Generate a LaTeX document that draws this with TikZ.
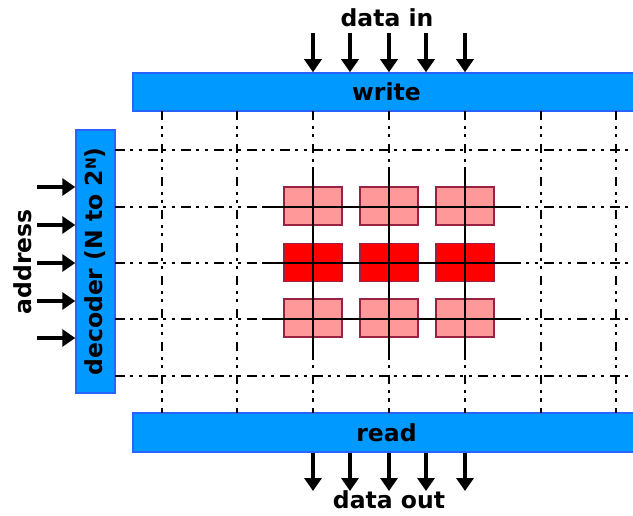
\documentclass[tikz,border=0pt]{standalone}
\usepackage{fontspec}
\setmainfont{DejaVu Sans}
\usetikzlibrary{arrows.meta}
\definecolor{busblue}{RGB}{0,153,255}
\definecolor{busedge}{RGB}{40,100,255}
\definecolor{cellpink}{RGB}{255,153,153}
\definecolor{celledge}{RGB}{153,34,68}
\definecolor{cellred}{RGB}{255,0,0}
\begin{document}
\begin{tikzpicture}[x=1pt,y=-1pt,
  txt/.style={font=\bfseries\fontsize{23.5}{23.5}\selectfont, inner sep=0pt},
  bus/.style={draw=busedge, fill=busblue, line width=1.5pt, inner sep=0pt, txt},
  cell/.style={draw=celledge, fill=cellpink, line width=1.8pt, minimum width=58pt, minimum height=38pt, inner sep=0pt},
  active/.style={cell, fill=cellred},
  gridline/.style={line width=2.4pt, dash pattern=on 9.5pt off 5.5pt on 3pt off 5.5pt on 3pt off 6.5pt},
  wire/.style={line width=2.5pt},
  sig/.style={line width=4.6pt, -{Triangle[length=13pt,width=17pt]}}]
\useasboundingbox (0,0) rectangle (633,516);

% read / write buses and the row decoder
\node[bus, minimum width=507pt, minimum height=38pt] (write) at (386.5,92) {write};
\node[bus, minimum width=507pt, minimum height=39pt] (read) at (386.5,432.5) {read};
\node[bus, minimum width=39pt, minimum height=263pt] (dec) at (95.5,261.5) {};
\node[txt, rotate=90] (declabel) at (dec) {decoder (N to 2\raisebox{0.55ex}{\fontsize{14}{14}\selectfont N})};

% dash-dotted word and bit lines
\foreach \x in {162,237,313,389,465,541,616}
  \draw[gridline] (\x,111) -- (\x,413);
\foreach \y in {150,207,263,319,376}
  \draw[gridline] (115,\y) -- (633,\y);

% memory cells, middle row selected
\foreach \x [count=\i] in {313,389,465} {
  \node[cell] (c1\i) at (\x,206) {};
  \node[active] (c2\i) at (\x,262.5) {};
  \node[cell] (c3\i) at (\x,318) {};
}

% solid lines through the selected block
\foreach \y in {207,263,319}
  \draw[wire] (265,\y) -- (516,\y);
\foreach \x in {313,389,465}
  \draw[wire] (\x,167) -- (\x,359);

% data in / data out
\foreach \x [count=\i] in {313,350,389,426,465} {
  \coordinate (in\i) at (\x,33);
  \draw[sig] (in\i) -- (in\i |- write.north);
  \coordinate (out\i) at (\x,491);
  \draw[sig] (out\i |- read.south) -- (out\i);
}
\node[txt] (datain) at (387,18) {data in};
\node[txt] (dataout) at (389,500) {data out};

% address inputs
\foreach \y [count=\i] in {187,225,263,301,338} {
  \coordinate (a\i) at (37,\y);
  \draw[sig] (a\i) -- (a\i -| dec.west);
}
\node[txt, rotate=90] (address) at (23,262) {address};
\end{tikzpicture}
\end{document}
